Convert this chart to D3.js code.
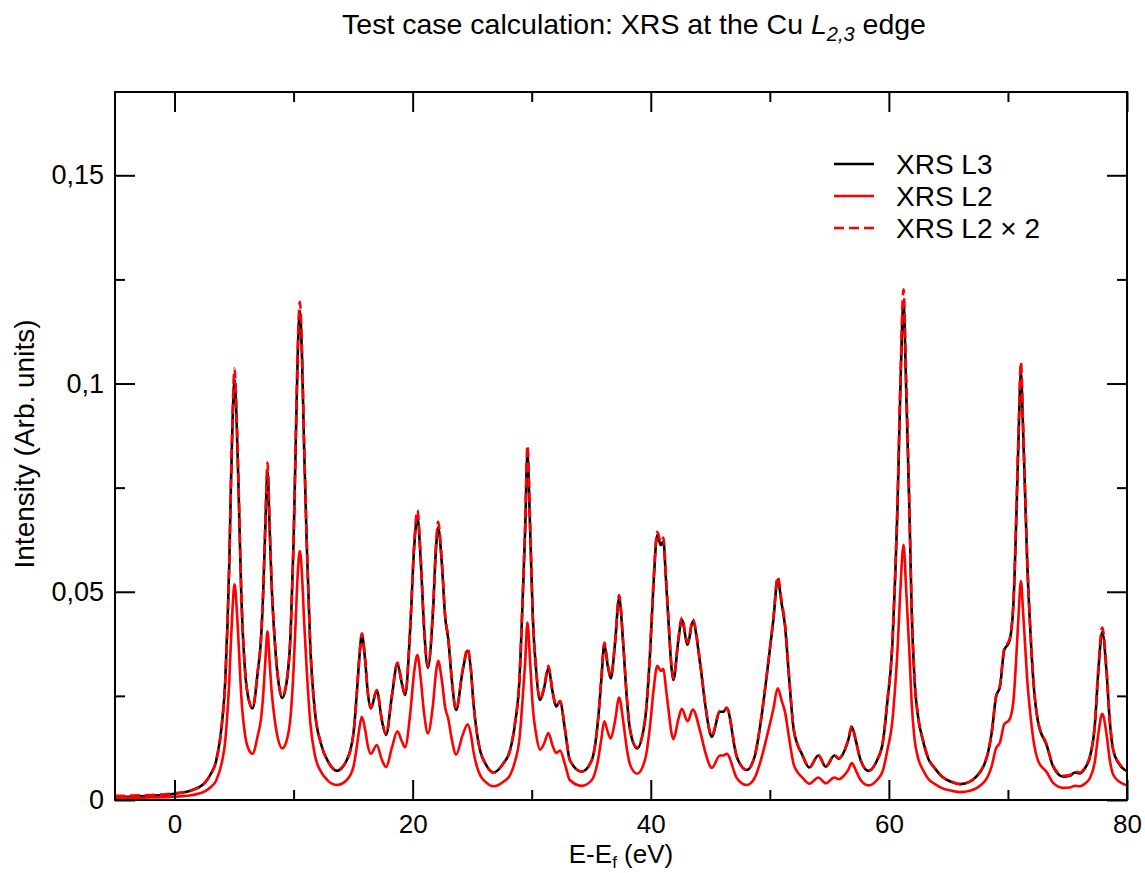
<!DOCTYPE html>
<html>
<head>
<meta charset="utf-8">
<script src="https://cdn.jsdelivr.net/npm/d3@7"></script>
<style>
  body { margin: 0; background: #fff; }
  svg text { font-family: "Liberation Sans", Arial, Helvetica, sans-serif; fill: #000; }
</style>
</head>
<body>
<div id="chart"></div>
<script>
// energies (eV, relative to Fermi level) where the curves were read
const energy = [
  -5, -2, 0, 1.5, 2.5, 3.0, 3.5, 3.98, 4.25, 4.45, 4.6, 4.73, 4.87, 5.04, 5.22, 5.38, 5.6, 5.94, 6.2, 6.55,
  7.0, 7.25, 7.45, 7.62, 7.81, 7.98, 8.15, 8.4, 8.7, 9.04, 9.4, 9.75, 10.0, 10.2, 10.35, 10.53, 10.7, 10.88,
  11.1, 11.4, 11.8, 12.3, 12.9, 13.64, 14.47, 15.03, 15.31, 15.53, 15.73, 16.01, 16.24, 16.49, 16.99, 17.41,
  17.77, 18.25, 18.72, 19.09, 19.37, 19.79, 20.13, 20.4, 20.69, 20.97, 21.28, 21.7, 21.97, 22.14, 22.45,
  22.73, 23.0, 23.29, 23.65, 24.21, 24.62, 24.9, 25.1, 25.4, 25.7, 26.1, 26.78, 27.62, 28.19, 28.6, 28.97,
  29.25, 29.45, 29.64, 29.87, 30.09, 30.37, 30.7, 31.05, 31.4, 31.75, 32.05, 32.38, 32.8, 33.2, 34.2, 35.05,
  35.6, 35.85, 36.1, 36.4, 36.64, 37.0, 37.34, 37.7, 37.98, 38.26, 38.85, 39.52, 39.94, 40.22, 40.55, 40.84,
  41.06, 41.28, 41.48, 41.76, 41.9, 42.32, 42.6, 43.1, 43.53, 44.14, 44.56, 44.98, 45.12, 45.81, 46.1, 46.38,
  47.22, 48.06, 48.76, 49.18, 49.87, 50.3, 50.66, 51.0, 51.28, 51.6, 52.0, 52.3, 52.7, 53.32, 54.07, 54.7,
  55.42, 55.79, 56.3, 56.6, 56.88, 57.2, 57.6, 58.28, 59.0, 59.5, 59.86, 60.29, 60.55, 60.72, 60.95, 61.23,
  61.45, 61.72, 61.9, 62.15, 62.45, 62.87, 63.3, 63.87, 64.5, 65.3, 66.0, 66.8, 67.4, 67.93, 68.3, 68.63,
  69.0, 69.33, 69.69, 70.11, 70.45, 70.73, 70.9, 71.09, 71.27, 71.43, 71.62, 71.85, 72.15, 72.55, 73.25,
  73.8, 74.64, 75.2, 75.62, 76.05, 76.5, 76.89, 77.3, 77.58, 77.92, 78.29, 78.55, 78.84, 79.3, 79.82, 80
];

// XRS L3 intensity
const xrsL3 = [
  0.0007, 0.0010, 0.0015, 0.0024, 0.0040, 0.0060, 0.0095, 0.0184, 0.0280, 0.0424, 0.0570, 0.0745, 0.0905, 0.1010, 0.0905, 0.0745, 0.0500, 0.0304, 0.0245, 0.0220,
  0.0310, 0.0380, 0.0500, 0.0650, 0.0790, 0.0660, 0.0520, 0.0390, 0.0290, 0.0245, 0.0280, 0.0400, 0.0620, 0.0880, 0.1070, 0.1175, 0.1070, 0.0850,
  0.0620, 0.0370, 0.0210, 0.0135, 0.0092, 0.0070, 0.0096, 0.0160, 0.0256, 0.0344, 0.0397, 0.0336, 0.0256, 0.0220, 0.0263, 0.0192,
  0.0156, 0.0248, 0.0327, 0.0280, 0.0252, 0.0408, 0.0608, 0.0680, 0.0568, 0.0408, 0.0317, 0.0448, 0.0608, 0.0655, 0.0568,
  0.0440, 0.0384, 0.0288, 0.0216, 0.0312, 0.0358, 0.0310, 0.0235, 0.0160, 0.0115, 0.0088, 0.0066, 0.0088, 0.0120, 0.0184, 0.0288,
  0.0488, 0.0648, 0.0833, 0.0648, 0.0440, 0.0312, 0.0240, 0.0270, 0.0317, 0.0260, 0.0224, 0.0236, 0.0168, 0.0096, 0.0068, 0.0096,
  0.0200, 0.0290, 0.0373, 0.0320, 0.0292, 0.0376, 0.0485, 0.0368, 0.0248, 0.0168, 0.0124, 0.0192, 0.0352, 0.0512, 0.0637, 0.0612,
  0.0621, 0.0528, 0.0433, 0.0312, 0.0288, 0.0384, 0.0433, 0.0373, 0.0429, 0.0329, 0.0232, 0.0160, 0.0152, 0.0212, 0.0212, 0.0220,
  0.0104, 0.0072, 0.0108, 0.0176, 0.0329, 0.0433, 0.0529, 0.0470, 0.0417, 0.0300, 0.0170, 0.0135, 0.0110, 0.0078, 0.0107, 0.0080,
  0.0107, 0.0099, 0.0120, 0.0145, 0.0176, 0.0145, 0.0098, 0.0070, 0.0095, 0.0140, 0.0232, 0.0371, 0.0550, 0.0699, 0.0970, 0.1195,
  0.0990, 0.0699, 0.0470, 0.0290, 0.0200, 0.0142, 0.0100, 0.0076, 0.0055, 0.0043, 0.0038, 0.0044, 0.0058, 0.0080, 0.0110, 0.0160,
  0.0248, 0.0272, 0.0360, 0.0380, 0.0464, 0.0704, 0.0880, 0.1029, 0.0890, 0.0744, 0.0570, 0.0424, 0.0280, 0.0184, 0.0132,
  0.0080, 0.0056, 0.0058, 0.0066, 0.0064, 0.0078, 0.0104, 0.0180, 0.0304, 0.0404, 0.0304, 0.0190, 0.0120, 0.0088, 0.0072, 0.0069
];

// XRS L2 intensity
const xrsL2 = [
  0.0005, 0.0006, 0.0008, 0.0012, 0.0020, 0.0030, 0.0047, 0.0091, 0.0139, 0.0212, 0.0286, 0.0376, 0.0459, 0.0518, 0.0461, 0.0378, 0.0253, 0.0153, 0.0123, 0.0111,
  0.0156, 0.0192, 0.0253, 0.0330, 0.0405, 0.0335, 0.0263, 0.0196, 0.0146, 0.0124, 0.0141, 0.0202, 0.0314, 0.0447, 0.0544, 0.0598, 0.0544, 0.0432,
  0.0314, 0.0187, 0.0106, 0.0068, 0.0046, 0.0036, 0.0048, 0.0080, 0.0128, 0.0173, 0.0200, 0.0169, 0.0129, 0.0111, 0.0132, 0.0097,
  0.0079, 0.0125, 0.0165, 0.0141, 0.0127, 0.0206, 0.0308, 0.0348, 0.0288, 0.0206, 0.0160, 0.0227, 0.0308, 0.0334, 0.0288,
  0.0222, 0.0194, 0.0145, 0.0109, 0.0157, 0.0182, 0.0156, 0.0118, 0.0080, 0.0058, 0.0044, 0.0033, 0.0044, 0.0060, 0.0093, 0.0146,
  0.0248, 0.0330, 0.0426, 0.0330, 0.0223, 0.0158, 0.0121, 0.0136, 0.0161, 0.0131, 0.0113, 0.0119, 0.0085, 0.0048, 0.0034, 0.0048,
  0.0101, 0.0147, 0.0189, 0.0162, 0.0148, 0.0190, 0.0246, 0.0186, 0.0125, 0.0085, 0.0063, 0.0097, 0.0178, 0.0260, 0.0322, 0.0310,
  0.0315, 0.0267, 0.0219, 0.0158, 0.0146, 0.0194, 0.0219, 0.0189, 0.0217, 0.0166, 0.0117, 0.0081, 0.0077, 0.0107, 0.0107, 0.0111,
  0.0053, 0.0036, 0.0055, 0.0089, 0.0166, 0.0219, 0.0268, 0.0238, 0.0211, 0.0152, 0.0086, 0.0068, 0.0055, 0.0039, 0.0054, 0.0040,
  0.0054, 0.0050, 0.0061, 0.0073, 0.0089, 0.0073, 0.0049, 0.0035, 0.0048, 0.0071, 0.0118, 0.0189, 0.0281, 0.0357, 0.0496, 0.0613,
  0.0507, 0.0357, 0.0240, 0.0148, 0.0101, 0.0072, 0.0051, 0.0038, 0.0028, 0.0022, 0.0019, 0.0022, 0.0029, 0.0041, 0.0056, 0.0081,
  0.0124, 0.0138, 0.0182, 0.0192, 0.0235, 0.0358, 0.0448, 0.0526, 0.0453, 0.0378, 0.0289, 0.0215, 0.0142, 0.0093, 0.0067,
  0.0041, 0.0029, 0.0030, 0.0034, 0.0033, 0.0040, 0.0053, 0.0092, 0.0156, 0.0207, 0.0156, 0.0097, 0.0061, 0.0045, 0.0037, 0.0035
];

const l2Factor = 2; // third series is XRS L2 multiplied by 2

const xMajorTicks = [0, 20, 40, 60, 80];
const xMinorTicks = [10, 30, 50, 70];
const yMajorTicks = [0, 0.05, 0.1, 0.15];
const yMinorTicks = [0.025, 0.075, 0.125];

const legendLabels = ["XRS L3", "XRS L2", "XRS L2 \u00d7 2"];

const width = 1145, height = 873;
const margin = {top: 92, right: 18, bottom: 73, left: 115};
const plotW = width - margin.left - margin.right;
const plotH = height - margin.top - margin.bottom;

const svg = d3.select("#chart").append("svg")
    .attr("width", width)
    .attr("height", height);

const x = d3.scaleLinear().domain([-5, 80]).range([margin.left, margin.left + plotW]);
const y = d3.scaleLinear().domain([0, 0.17]).range([margin.top + plotH, margin.top]);

const comma = d3.formatLocale({decimal: ",", thousands: ".", grouping: [3], currency: ["", ""]}).format(".2~f");

const rows = energy.map((e, i) => ({e: e, l3: xrsL3[i], l2: xrsL2[i]}));

// clip the curves to the frame
svg.append("clipPath").attr("id", "clip")
    .append("rect")
    .attr("x", margin.left).attr("y", margin.top)
    .attr("width", plotW).attr("height", plotH);

const plot = svg.append("g").attr("clip-path", "url(#clip)");

const line = acc => d3.line()
    .x(d => x(d.e))
    .y(acc)
    .curve(d3.curveMonotoneX);

plot.append("path").datum(rows)
    .attr("fill", "none").attr("stroke", "#000").attr("stroke-width", 2.6)
    .attr("stroke-linejoin", "round")
    .attr("d", line(d => y(d.l3)));

plot.append("path").datum(rows)
    .attr("fill", "none").attr("stroke", "#ff0000").attr("stroke-width", 2.6)
    .attr("stroke-linejoin", "round")
    .attr("d", line(d => y(d.l2)));

plot.append("path").datum(rows)
    .attr("fill", "none").attr("stroke", "#ff0000").attr("stroke-width", 2.6)
    .attr("stroke-linejoin", "round")
    .attr("stroke-dasharray", "10,5")
    .attr("d", line(d => y(d.l2 * l2Factor)));

// axes, ticks pointing inward on all four sides
function styleAxis(g) {
    g.select(".domain").remove();
    g.selectAll(".tick line").attr("stroke", "#000").attr("stroke-width", 2);
    g.selectAll(".tick text").attr("font-size", 27).attr("fill", "#000")
        .style("font-family", "'Liberation Sans', Arial, sans-serif");
}

svg.append("g")
    .attr("transform", `translate(0,${margin.top + plotH})`)
    .call(d3.axisBottom(x).tickValues(xMajorTicks).tickSize(-20).tickPadding(15).tickFormat(d3.format("d")))
    .call(styleAxis)
    .call(g => g.selectAll(".tick text").attr("font-size", 26));
svg.append("g")
    .attr("transform", `translate(0,${margin.top + plotH})`)
    .call(d3.axisBottom(x).tickValues(xMinorTicks).tickSize(-10).tickFormat(""))
    .call(styleAxis);
svg.append("g")
    .attr("transform", `translate(0,${margin.top})`)
    .call(d3.axisTop(x).tickValues(xMajorTicks).tickSize(-20).tickFormat(""))
    .call(styleAxis);
svg.append("g")
    .attr("transform", `translate(0,${margin.top})`)
    .call(d3.axisTop(x).tickValues(xMinorTicks).tickSize(-10).tickFormat(""))
    .call(styleAxis);

svg.append("g")
    .attr("transform", `translate(${margin.left},0)`)
    .call(d3.axisLeft(y).tickValues(yMajorTicks).tickSize(-20).tickPadding(11).tickFormat(comma))
    .call(styleAxis);
svg.append("g")
    .attr("transform", `translate(${margin.left},0)`)
    .call(d3.axisLeft(y).tickValues(yMinorTicks).tickSize(-10).tickFormat(""))
    .call(styleAxis);
svg.append("g")
    .attr("transform", `translate(${margin.left + plotW},0)`)
    .call(d3.axisRight(y).tickValues(yMajorTicks).tickSize(-20).tickFormat(""))
    .call(styleAxis);
svg.append("g")
    .attr("transform", `translate(${margin.left + plotW},0)`)
    .call(d3.axisRight(y).tickValues(yMinorTicks).tickSize(-10).tickFormat(""))
    .call(styleAxis);

svg.append("rect")
    .attr("x", margin.left).attr("y", margin.top)
    .attr("width", plotW).attr("height", plotH)
    .attr("fill", "none").attr("stroke", "#000").attr("stroke-width", 2);

// title
const title = svg.append("text")
    .attr("x", 634).attr("y", 34)
    .attr("text-anchor", "middle")
    .attr("font-size", 28.5);
title.append("tspan").text("Test case calculation: XRS at the Cu ");
title.append("tspan").attr("font-style", "italic").text("L");
title.append("tspan").attr("font-style", "italic").attr("font-size", 20).attr("dy", 7).text("2,3");
title.append("tspan").attr("dy", -7).text(" edge");

// axis labels
const xLabel = svg.append("text")
    .attr("x", margin.left + plotW / 2).attr("y", 863)
    .attr("text-anchor", "middle")
    .attr("font-size", 26);
xLabel.append("tspan").text("E-E");
xLabel.append("tspan").attr("font-size", 17).attr("dy", 5).text("f");
xLabel.append("tspan").attr("dy", -5).text(" (eV)");

svg.append("text")
    .attr("transform", `translate(34,${margin.top + plotH / 2 - 2}) rotate(-90)`)
    .attr("text-anchor", "middle")
    .attr("font-size", 28)
    .text("Intensity (Arb. units)");

// legend
const legendStyles = [
    {color: "#000", dash: null},
    {color: "#ff0000", dash: null},
    {color: "#ff0000", dash: "10,5"}
];
const legend = svg.append("g").attr("transform", "translate(834,164)");
legendLabels.forEach((label, i) => {
    const row = legend.append("g").attr("transform", `translate(0,${i * 32})`);
    row.append("line")
        .attr("x1", 0).attr("x2", 40).attr("y1", 0).attr("y2", 0)
        .attr("stroke", legendStyles[i].color).attr("stroke-width", 2.6)
        .attr("stroke-dasharray", legendStyles[i].dash);
    row.append("text")
        .attr("x", 62).attr("y", 10)
        .attr("font-size", 28)
        .text(label);
});
</script>
</body>
</html>
